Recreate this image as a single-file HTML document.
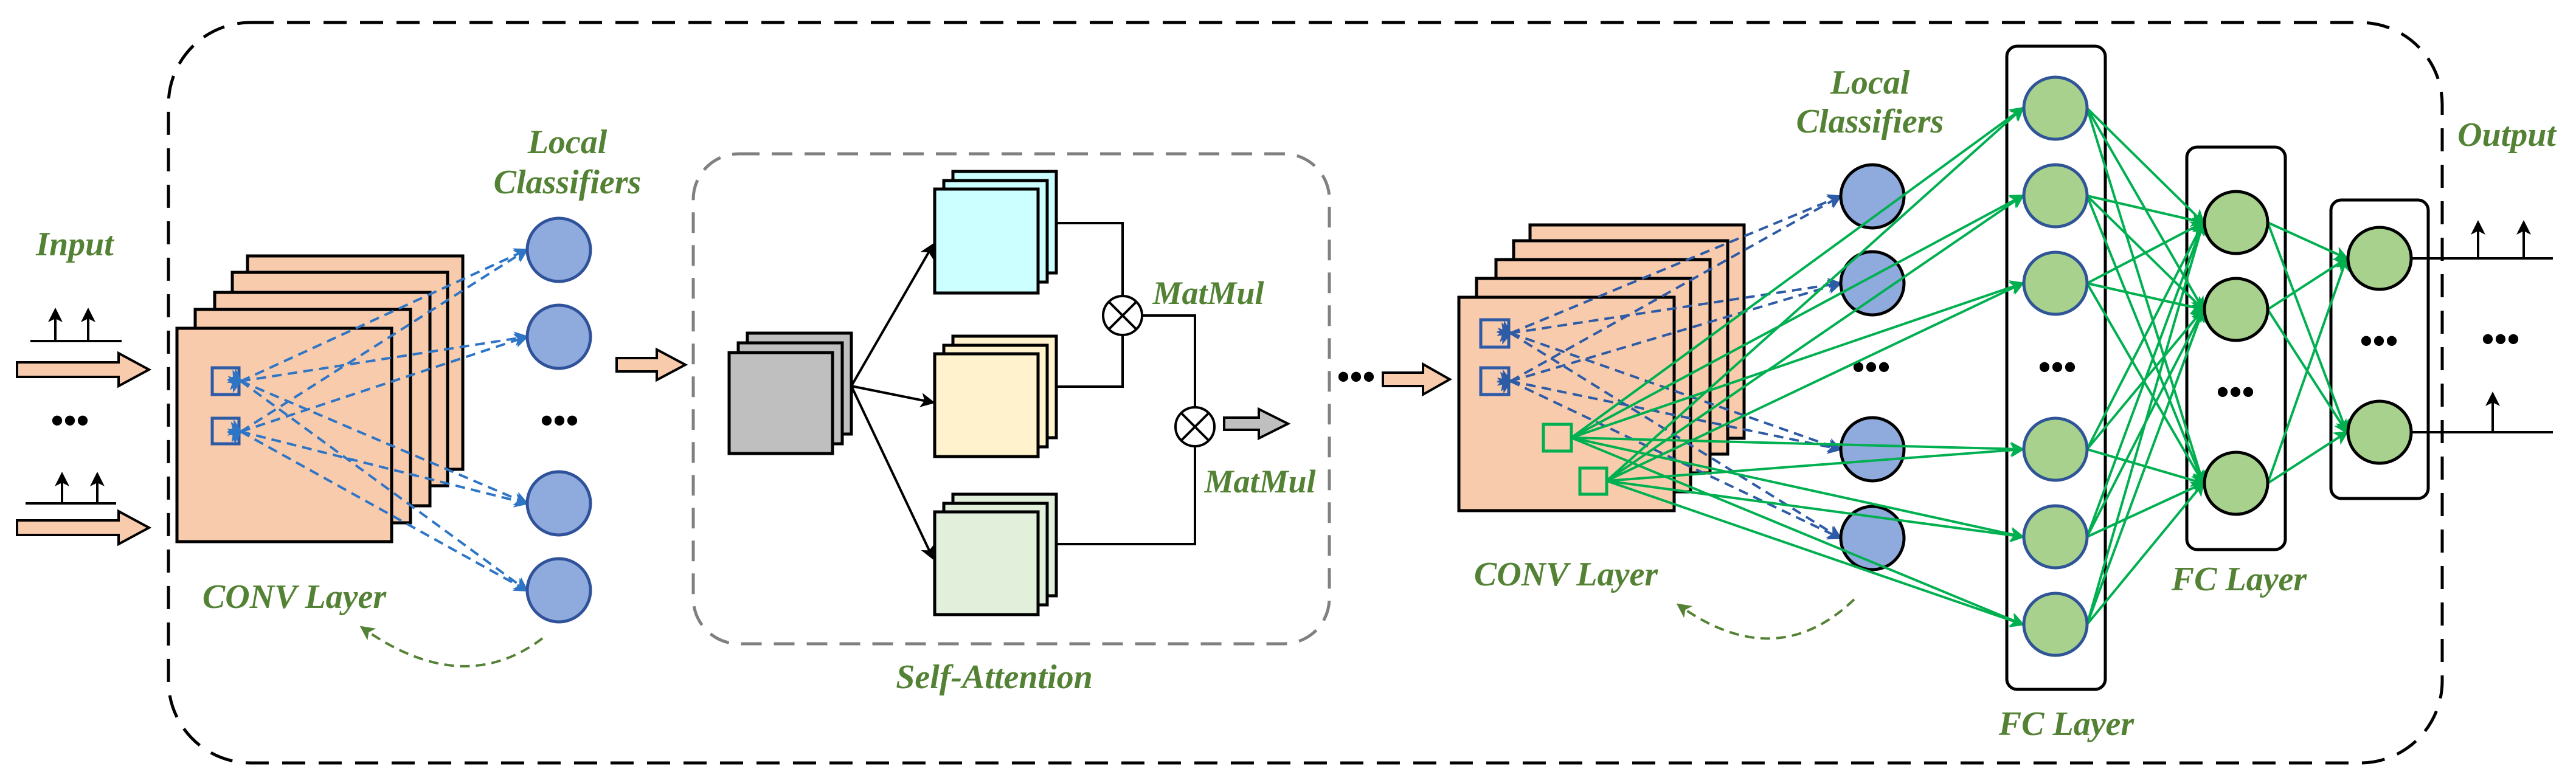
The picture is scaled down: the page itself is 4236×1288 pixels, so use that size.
<!DOCTYPE html>
<html><head><meta charset="utf-8"><style>
html,body{margin:0;padding:0;background:#fff;}
svg{display:block;}
text{font-family:"Liberation Serif",serif;font-weight:bold;font-style:italic;fill:#548235;}
</style></head><body>
<svg id="s" width="4236" height="1288" viewBox="0 0 4236 1288" xmlns="http://www.w3.org/2000/svg">
<defs>
<marker id="ab" markerWidth="6" markerHeight="6" refX="5" refY="3" orient="auto" markerUnits="strokeWidth"><path d="M0,0 L6,3 L0,6 L1.5,3 z" fill="#2e5ba6"/></marker>
<marker id="ab1" markerWidth="6" markerHeight="6" refX="5" refY="3" orient="auto" markerUnits="strokeWidth"><path d="M0,0 L6,3 L0,6 L1.5,3 z" fill="#2e75c6"/></marker>
<marker id="ag" markerWidth="6" markerHeight="6" refX="5" refY="3" orient="auto" markerUnits="strokeWidth"><path d="M0,0 L6,3 L0,6 L1.5,3 z" fill="#00b050"/></marker>
<marker id="ak" markerWidth="6" markerHeight="6" refX="5" refY="3" orient="auto" markerUnits="strokeWidth"><path d="M0,0 L6,3 L0,6 L1.5,3 z" fill="#000"/></marker>
<marker id="adg" markerWidth="6" markerHeight="6" refX="5" refY="3" orient="auto" markerUnits="strokeWidth"><path d="M0,0 L6,3 L0,6 L1.5,3 z" fill="#548235"/></marker>
</defs>

<rect x="277" y="37" width="3739" height="1218" rx="135" fill="none" stroke="#000" stroke-width="5" stroke-dasharray="38 22"/>

<text x="123" y="420" font-size="56" text-anchor="middle">Input</text>
<g stroke="#000" stroke-width="4" fill="none">
<line x1="50" y1="561" x2="200" y2="561"/>
<line x1="91" y1="561" x2="91" y2="510" marker-end="url(#ak)"/>
<line x1="145" y1="561" x2="145" y2="510" marker-end="url(#ak)"/>
<line x1="42" y1="828" x2="191" y2="828"/>
<line x1="102" y1="828" x2="102" y2="780" marker-end="url(#ak)"/>
<line x1="160" y1="828" x2="160" y2="780" marker-end="url(#ak)"/>
</g>
<g fill="#f8cbad" stroke="#000" stroke-width="4">
<path d="M28,596 L195,596 L195,581 L245,608 L195,635 L195,620 L28,620 z"/>
<path d="M28,856 L195,856 L195,841 L245,868 L195,895 L195,880 L28,880 z"/>
</g>
<text x="115" y="712" font-size="60" text-anchor="middle" style="font-style:normal;fill:#000">•••</text>

<g fill="#f8cbad" stroke="#000" stroke-width="5">
<rect x="407" y="421" width="354" height="351"/>
<rect x="382" y="448" width="354" height="351"/>
<rect x="353" y="481" width="354" height="351"/>
<rect x="321" y="509" width="354" height="351"/>
<rect x="291" y="540" width="353" height="351"/>
</g>
<g fill="none" stroke="#2e5ba6" stroke-width="5">
<rect x="349" y="605" width="44" height="44"/>
<rect x="349" y="688" width="44" height="42"/>
</g>
<g id="blue1"></g>
<g fill="#8faadc" stroke="#2f529a" stroke-width="5">
<circle cx="919" cy="411" r="52"/><circle cx="919" cy="554" r="52"/>
<circle cx="919" cy="828" r="52"/><circle cx="919" cy="971" r="52"/>
</g>
<text x="920" y="712" font-size="60" text-anchor="middle" style="font-style:normal;fill:#000">•••</text>
<text x="933" y="252" font-size="56" text-anchor="middle">Local</text>
<text x="933" y="318" font-size="56" text-anchor="middle">Classifiers</text>
<text x="484" y="1000" font-size="56" text-anchor="middle">CONV Layer</text>
<path d="M892,1050 Q760,1150 595,1032" fill="none" stroke="#548235" stroke-width="4" stroke-dasharray="16 10" marker-end="url(#adg)"/>

<path d="M1014,589 L1080,589 L1080,575 L1127,600 L1080,625 L1080,611 L1014,611 z" fill="#f8cbad" stroke="#000" stroke-width="4"/>

<rect x="1140" y="253" width="1046" height="806" rx="75" fill="none" stroke="#808080" stroke-width="5" stroke-dasharray="34 20"/>
<text x="1635" y="1132" font-size="56" text-anchor="middle">Self-Attention</text>
<g stroke="#000" stroke-width="5">
<g fill="#bfbfbf"><rect x="1229" y="548" width="171" height="166"/><rect x="1214" y="564" width="171" height="166"/><rect x="1199" y="580" width="170" height="166"/></g>
<g fill="#ccffff"><rect x="1567" y="282" width="170" height="167"/><rect x="1552" y="297" width="170" height="167"/><rect x="1537" y="311" width="170" height="171"/></g>
<g fill="#fff2cc"><rect x="1567" y="553" width="170" height="167"/><rect x="1552" y="568" width="170" height="167"/><rect x="1537" y="582" width="170" height="169"/></g>
<g fill="#e2efda"><rect x="1567" y="813" width="170" height="167"/><rect x="1552" y="828" width="170" height="167"/><rect x="1537" y="842" width="170" height="169"/></g>
</g>
<g stroke="#000" stroke-width="4" fill="none">
<line x1="1400" y1="635" x2="1534" y2="403" marker-end="url(#ak)"/>
<line x1="1400" y1="635" x2="1534" y2="662" marker-end="url(#ak)"/>
<line x1="1400" y1="635" x2="1534" y2="918" marker-end="url(#ak)"/>
<polyline points="1737,367 1846,367 1846,487"/>
<polyline points="1737,636 1846,636 1846,551"/>
<polyline points="1878,519 1965,519 1965,670"/>
<polyline points="1737,895 1965,895 1965,734"/>
<circle cx="1846" cy="519" r="32" fill="#fff"/>
<line x1="1823" y1="496" x2="1869" y2="542"/><line x1="1869" y1="496" x2="1823" y2="542"/>
<circle cx="1965" cy="702" r="32" fill="#fff"/>
<line x1="1942" y1="679" x2="1988" y2="725"/><line x1="1988" y1="679" x2="1942" y2="725"/>
</g>
<text x="1987" y="500" font-size="54" text-anchor="middle">MatMul</text>
<text x="2072" y="810" font-size="54" text-anchor="middle">MatMul</text>
<path d="M2013,687 L2070,687 L2070,673 L2118,697 L2070,721 L2070,707 L2013,707 z" fill="#bfbfbf" stroke="#000" stroke-width="4"/>

<text x="2230" y="640" font-size="60" text-anchor="middle" style="font-style:normal;fill:#000">•••</text>
<path d="M2274,613 L2340,613 L2340,599 L2384,624 L2340,649 L2340,635 L2274,635 z" fill="#f8cbad" stroke="#000" stroke-width="4"/>

<g fill="#f8cbad" stroke="#000" stroke-width="5">
<rect x="2516" y="370" width="352" height="351"/>
<rect x="2489" y="396" width="352" height="351"/>
<rect x="2460" y="427" width="352" height="351"/>
<rect x="2428" y="458" width="352" height="351"/>
<rect x="2399" y="489" width="354" height="351"/>
</g>
<g fill="none" stroke="#2e5ba6" stroke-width="5">
<rect x="2435" y="526" width="46" height="45"/>
<rect x="2435" y="605" width="46" height="44"/>
</g>
<g fill="none" stroke="#00b050" stroke-width="5">
<rect x="2538" y="698" width="46" height="44"/>
<rect x="2598" y="770" width="44" height="43"/>
</g>
<g id="blue2"></g>
<g fill="#8faadc" stroke="#000" stroke-width="5">
<circle cx="3079" cy="323" r="52"/><circle cx="3079" cy="466" r="52"/>
<circle cx="3079" cy="739" r="52"/><circle cx="3079" cy="885" r="52"/>
</g>
<text x="3077" y="624" font-size="60" text-anchor="middle" style="font-style:normal;fill:#000">•••</text>
<text x="3075" y="154" font-size="56" text-anchor="middle">Local</text>
<text x="3075" y="218" font-size="56" text-anchor="middle">Classifiers</text>
<text x="2575" y="963" font-size="56" text-anchor="middle">CONV Layer</text>
<path d="M3049,986 Q2920,1110 2760,995" fill="none" stroke="#548235" stroke-width="4" stroke-dasharray="16 10" marker-end="url(#adg)"/>

<g fill="none" stroke="#000" stroke-width="5">
<rect x="3300" y="76" width="162" height="1058" rx="17"/>
<rect x="3596" y="242" width="162" height="662" rx="17"/>
<rect x="3833" y="329" width="160" height="491" rx="17"/>
</g>
<g id="green"></g>
<g fill="#a9d18e" stroke="#2f5597" stroke-width="5">
<ellipse cx="3380" cy="178" rx="52" ry="51"/><ellipse cx="3380" cy="322" rx="52" ry="51"/>
<ellipse cx="3380" cy="466" rx="52" ry="51"/><ellipse cx="3380" cy="739" rx="52" ry="51"/>
<ellipse cx="3380" cy="883" rx="52" ry="51"/><ellipse cx="3380" cy="1027" rx="52" ry="51"/>
</g>
<g fill="#a9d18e" stroke="#000" stroke-width="5">
<ellipse cx="3677" cy="366" rx="52" ry="51"/><ellipse cx="3677" cy="509" rx="52" ry="51"/>
<ellipse cx="3677" cy="795" rx="52" ry="51"/>
<ellipse cx="3913" cy="425" rx="52" ry="51"/><ellipse cx="3913" cy="711" rx="52" ry="51"/>
</g>
<text x="3383" y="624" font-size="60" text-anchor="middle" style="font-style:normal;fill:#000">•••</text>
<text x="3676" y="665" font-size="60" text-anchor="middle" style="font-style:normal;fill:#000">•••</text>
<text x="3912" y="581" font-size="60" text-anchor="middle" style="font-style:normal;fill:#000">•••</text>
<text x="4112" y="578" font-size="60" text-anchor="middle" style="font-style:normal;fill:#000">•••</text>
<text x="3398" y="1209" font-size="56" text-anchor="middle">FC Layer</text>
<text x="3682" y="971" font-size="56" text-anchor="middle">FC Layer</text>
<text x="4122" y="240" font-size="56" text-anchor="middle">Output</text>
<g stroke="#000" stroke-width="4" fill="none">
<line x1="3965" y1="425" x2="4198" y2="425"/>
<line x1="4075" y1="425" x2="4075" y2="366" marker-end="url(#ak)"/>
<line x1="4150" y1="425" x2="4150" y2="366" marker-end="url(#ak)"/>
<line x1="3965" y1="711" x2="4198" y2="711"/>
<line x1="4099" y1="711" x2="4099" y2="648" marker-end="url(#ak)"/>
</g>
</svg>
<script>
(function(){
var NS="http://www.w3.org/2000/svg";
function L(g,x1,y1,x2,y2,a){var l=document.createElementNS(NS,"line");
l.setAttribute("x1",x1);l.setAttribute("y1",y1);l.setAttribute("x2",x2);l.setAttribute("y2",y2);
for(var k in a)l.setAttribute(k,a[k]);document.getElementById(g).appendChild(l);}
var bd1={stroke:"#2e75c6","stroke-width":4,"stroke-dasharray":"16 10","marker-end":"url(#ab1)","marker-start":"url(#ab1)"};
var bd={stroke:"#2e5ba6","stroke-width":4,"stroke-dasharray":"16 10","marker-end":"url(#ab)","marker-start":"url(#ab)"};
[627,710].forEach(function(y){[411,554,828,971].forEach(function(c){L("blue1",396,y,866,c,bd1);});});
[548,627].forEach(function(y){[323,466,739,885].forEach(function(c){L("blue2",2484,y,3026,c,bd);});});
var gd={stroke:"#00b050","stroke-width":4,"marker-end":"url(#ag)"};
var f1=[178,322,466,739,883,1027],f2=[366,509,795],f3=[425,711];
[[2584,720],[2642,791]].forEach(function(p){f1.forEach(function(c){L("green",p[0],p[1],3326,c,gd);});});
f1.forEach(function(a){f2.forEach(function(b){L("green",3432,a,3623,b,gd);});});
f2.forEach(function(a){f3.forEach(function(b){L("green",3729,a,3859,b,gd);});});
})();
</script>
</body></html>
